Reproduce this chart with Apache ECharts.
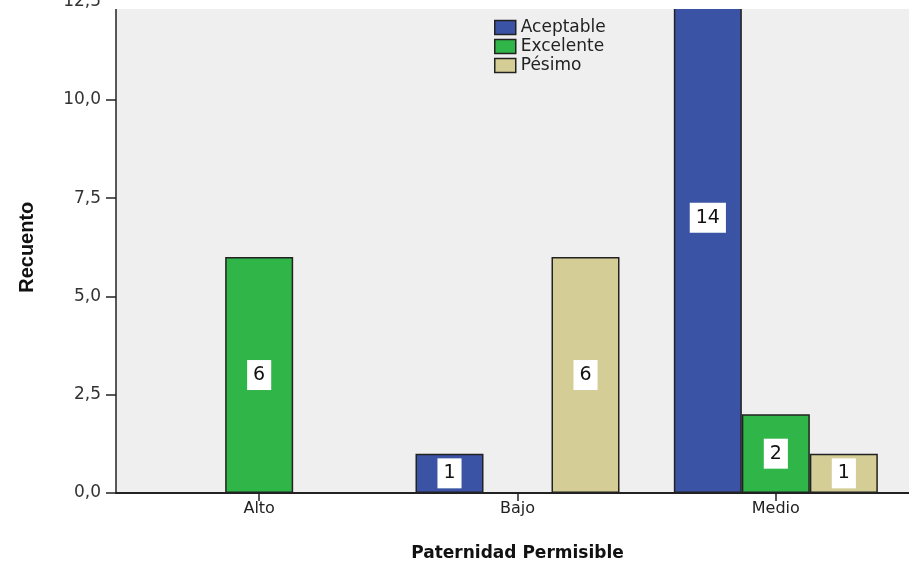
<!DOCTYPE html>
<html>
<head>
<meta charset="utf-8">
<script src="https://cdn.jsdelivr.net/npm/echarts@6/dist/echarts.min.js"></script>
<style>
html,body{margin:0;padding:0;background:#fff;}
#chart{width:909px;height:565px;}
</style>
</head>
<body>
<div id="chart"></div>
<script>
const categories = ['Alto', 'Bajo', 'Medio'];
const aceptable = [null, 1, 14];
const excelente = [6, null, 2];
const pesimo = [null, 6, 1];
const seriesNames = ['Aceptable', 'Excelente', 'Pésimo'];
const yTicks = [0, 2.5, 5, 7.5, 10, 12.5];

const colors = ['#3a53a4', '#30b548', '#d5cd96'];
const chart = echarts.init(document.getElementById('chart'));

function mkSeries(name, data, color) {
  return {
    name: name,
    type: 'bar',
    xAxisIndex: 0,
    yAxisIndex: 0,
    data: data,
    barWidth: 68,
    barGap: '0%',
    clip: false,
    itemStyle: { color: color, borderColor: '#222', borderWidth: 1.5 },
    label: {
      show: true,
      position: 'inside',
      backgroundColor: '#fff',
      padding: [6, 6, 5, 6],
      color: '#111',
      fontFamily: 'DejaVu Sans',
      fontSize: 19
    }
  };
}

chart.setOption({
  animation: false,
  backgroundColor: '#fff',
  grid: [
    { left: 130, right: 4, top: 1.5, bottom: 72, show: false, containLabel: false, outerBoundsMode: 'none' },
    { left: 116, right: 0, top: 9, bottom: 72, show: true, backgroundColor: '#efefef', borderWidth: 0, containLabel: false, outerBoundsMode: 'none' }
  ],
  legend: {
    orient: 'vertical',
    left: 489,
    top: 14,
    itemWidth: 21,
    itemHeight: 14,
    itemGap: 2,
    icon: 'rect',
    itemStyle: { borderColor: '#222', borderWidth: 1.5 },
    textStyle: { fontFamily: 'DejaVu Sans', fontSize: 17, color: '#222', lineHeight: 14 },
    data: seriesNames
  },
  xAxis: [
    {
      type: 'category',
      gridIndex: 0,
      data: categories,
      name: 'Paternidad Permisible',
      nameLocation: 'middle',
      nameGap: 52,
      nameTextStyle: { fontFamily: 'DejaVu Sans', fontWeight: 'bold', fontSize: 17, color: '#111' },
      axisLine: { show: false },
      axisTick: { show: true, alignWithLabel: true, length: 8, lineStyle: { color: '#222', width: 1.5 } },
      axisLabel: { fontFamily: 'DejaVu Sans', fontSize: 16, color: '#222', margin: 8 }
    },
    {
      type: 'category', gridIndex: 1, data: categories,
      axisLine: { show: true, lineStyle: { color: '#222', width: 2 } },
      axisTick: { show: false }, axisLabel: { show: false }, splitLine: { show: false }
    }
  ],
  yAxis: [
    {
      type: 'value',
      gridIndex: 0,
      min: 0,
      max: 12.5,
      interval: 2.5,
      offset: 14,
      name: 'Recuento',
      nameLocation: 'middle',
      nameGap: 79,
      nameRotate: 90,
      nameTextStyle: { fontFamily: 'Liberation Sans', fontWeight: 'bold', fontSize: 20, color: '#111' },
      axisLine: { show: true, lineStyle: { color: '#222', width: 1.5 } },
      axisTick: { show: true, length: 10, lineStyle: { color: '#222', width: 1.5 } },
      splitLine: { show: false },
      axisLabel: {
        fontFamily: 'DejaVu Sans', fontSize: 17, color: '#333', margin: 15,
        formatter: function (v) { return v.toFixed(1).replace('.', ','); }
      }
    },
    { type: 'value', gridIndex: 1, show: false, min: 0, max: 12.5 }
  ],
  graphic: [
    { type: 'rect', left: 105, top: 0, shape: { width: 804, height: 9 }, style: { fill: '#fff' }, z: 100 }
  ],
  series: [
    mkSeries(seriesNames[0], aceptable, colors[0]),
    mkSeries(seriesNames[1], excelente, colors[1]),
    mkSeries(seriesNames[2], pesimo, colors[2])
  ]
});
</script>
</body>
</html>
